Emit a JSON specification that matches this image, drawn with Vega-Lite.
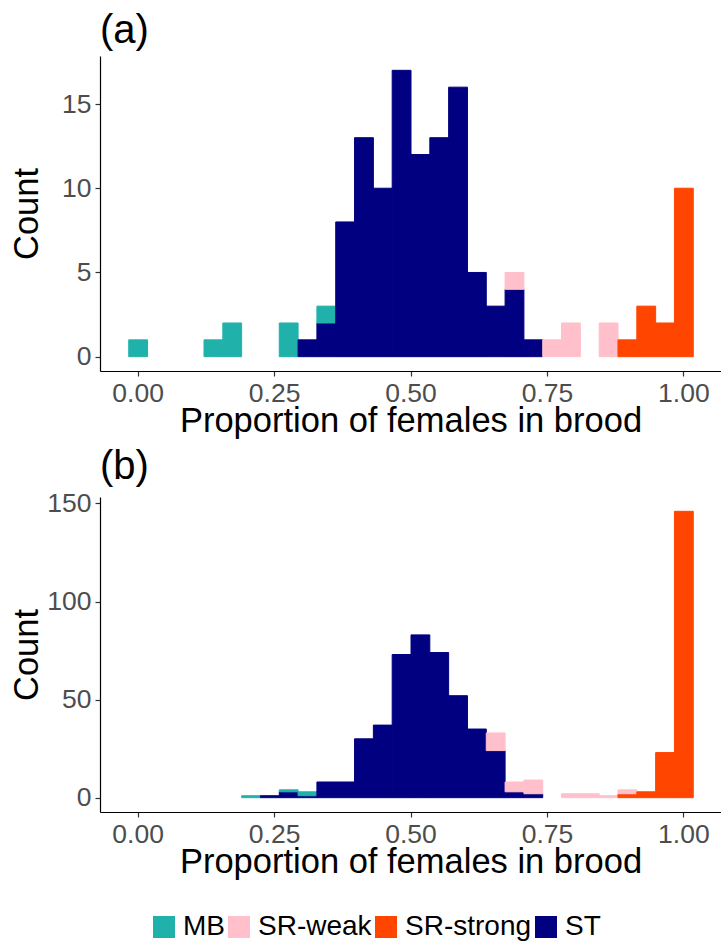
{
  "$schema": "https://vega.github.io/schema/vega-lite/v6.json",
  "padding": {"left": 9, "top": 11, "right": 0, "bottom": 0},
  "background": "white",
  "config": {
    "font": "Liberation Sans",
    "view": {"stroke": null},
    "axis": {
      "grid": false,
      "domainColor": "black",
      "domainWidth": 1.2,
      "tickColor": "#333333",
      "tickWidth": 1.2,
      "tickSize": 5,
      "labelColor": "#4D4D4D",
      "labelFontSize": 26.5,
      "labelPadding": 4,
      "labelFont": "Liberation Sans",
      "titleFont": "Liberation Sans",
      "titleFontSize": 34.5,
      "titleFontWeight": "normal",
      "titleColor": "black"
    },
    "title": {
      "font": "Liberation Sans",
      "fontSize": 40,
      "fontWeight": "normal",
      "anchor": "start",
      "frame": "group",
      "baseline": "alphabetic",
      "color": "black"
    }
  },
  "datasets": {
    "hist": [
      {"panel": "a", "group": "MB", "bin_start": -0.017241, "bin_end": 0.017241, "count": 1},
      {"panel": "a", "group": "MB", "bin_start": 0.120690, "bin_end": 0.155172, "count": 1},
      {"panel": "a", "group": "MB", "bin_start": 0.155172, "bin_end": 0.189655, "count": 2},
      {"panel": "a", "group": "MB", "bin_start": 0.258621, "bin_end": 0.293103, "count": 2},
      {"panel": "a", "group": "ST", "bin_start": 0.293103, "bin_end": 0.327586, "count": 1},
      {"panel": "a", "group": "ST", "bin_start": 0.327586, "bin_end": 0.362069, "count": 2},
      {"panel": "a", "group": "MB", "bin_start": 0.327586, "bin_end": 0.362069, "count": 1},
      {"panel": "a", "group": "ST", "bin_start": 0.362069, "bin_end": 0.396552, "count": 8},
      {"panel": "a", "group": "ST", "bin_start": 0.396552, "bin_end": 0.431034, "count": 13},
      {"panel": "a", "group": "ST", "bin_start": 0.431034, "bin_end": 0.465517, "count": 10},
      {"panel": "a", "group": "ST", "bin_start": 0.465517, "bin_end": 0.500000, "count": 17},
      {"panel": "a", "group": "ST", "bin_start": 0.500000, "bin_end": 0.534483, "count": 12},
      {"panel": "a", "group": "ST", "bin_start": 0.534483, "bin_end": 0.568966, "count": 13},
      {"panel": "a", "group": "ST", "bin_start": 0.568966, "bin_end": 0.603448, "count": 16},
      {"panel": "a", "group": "ST", "bin_start": 0.603448, "bin_end": 0.637931, "count": 5},
      {"panel": "a", "group": "ST", "bin_start": 0.637931, "bin_end": 0.672414, "count": 3},
      {"panel": "a", "group": "ST", "bin_start": 0.672414, "bin_end": 0.706897, "count": 4},
      {"panel": "a", "group": "SR-weak", "bin_start": 0.672414, "bin_end": 0.706897, "count": 1},
      {"panel": "a", "group": "ST", "bin_start": 0.706897, "bin_end": 0.741379, "count": 1},
      {"panel": "a", "group": "SR-weak", "bin_start": 0.741379, "bin_end": 0.775862, "count": 1},
      {"panel": "a", "group": "SR-weak", "bin_start": 0.775862, "bin_end": 0.810345, "count": 2},
      {"panel": "a", "group": "SR-weak", "bin_start": 0.844828, "bin_end": 0.879310, "count": 2},
      {"panel": "a", "group": "SR-strong", "bin_start": 0.879310, "bin_end": 0.913793, "count": 1},
      {"panel": "a", "group": "SR-strong", "bin_start": 0.913793, "bin_end": 0.948276, "count": 3},
      {"panel": "a", "group": "SR-strong", "bin_start": 0.948276, "bin_end": 0.982759, "count": 2},
      {"panel": "a", "group": "SR-strong", "bin_start": 0.982759, "bin_end": 1.017241, "count": 10},

      {"panel": "b", "group": "MB", "bin_start": 0.189655, "bin_end": 0.224138, "count": 1},
      {"panel": "b", "group": "ST", "bin_start": 0.224138, "bin_end": 0.258621, "count": 1},
      {"panel": "b", "group": "ST", "bin_start": 0.258621, "bin_end": 0.293103, "count": 3},
      {"panel": "b", "group": "MB", "bin_start": 0.258621, "bin_end": 0.293103, "count": 1},
      {"panel": "b", "group": "ST", "bin_start": 0.293103, "bin_end": 0.327586, "count": 1},
      {"panel": "b", "group": "MB", "bin_start": 0.293103, "bin_end": 0.327586, "count": 2},
      {"panel": "b", "group": "ST", "bin_start": 0.327586, "bin_end": 0.362069, "count": 8},
      {"panel": "b", "group": "ST", "bin_start": 0.362069, "bin_end": 0.396552, "count": 8},
      {"panel": "b", "group": "ST", "bin_start": 0.396552, "bin_end": 0.431034, "count": 30},
      {"panel": "b", "group": "ST", "bin_start": 0.431034, "bin_end": 0.465517, "count": 37},
      {"panel": "b", "group": "ST", "bin_start": 0.465517, "bin_end": 0.500000, "count": 73},
      {"panel": "b", "group": "ST", "bin_start": 0.500000, "bin_end": 0.534483, "count": 83},
      {"panel": "b", "group": "ST", "bin_start": 0.534483, "bin_end": 0.568966, "count": 74},
      {"panel": "b", "group": "ST", "bin_start": 0.568966, "bin_end": 0.603448, "count": 52},
      {"panel": "b", "group": "ST", "bin_start": 0.603448, "bin_end": 0.637931, "count": 35},
      {"panel": "b", "group": "ST", "bin_start": 0.637931, "bin_end": 0.672414, "count": 24},
      {"panel": "b", "group": "SR-weak", "bin_start": 0.637931, "bin_end": 0.672414, "count": 9},
      {"panel": "b", "group": "ST", "bin_start": 0.672414, "bin_end": 0.706897, "count": 3},
      {"panel": "b", "group": "SR-weak", "bin_start": 0.672414, "bin_end": 0.706897, "count": 5},
      {"panel": "b", "group": "ST", "bin_start": 0.706897, "bin_end": 0.741379, "count": 2},
      {"panel": "b", "group": "SR-weak", "bin_start": 0.706897, "bin_end": 0.741379, "count": 7},
      {"panel": "b", "group": "SR-weak", "bin_start": 0.775862, "bin_end": 0.810345, "count": 2},
      {"panel": "b", "group": "SR-weak", "bin_start": 0.810345, "bin_end": 0.844828, "count": 2},
      {"panel": "b", "group": "SR-weak", "bin_start": 0.844828, "bin_end": 0.879310, "count": 1},
      {"panel": "b", "group": "SR-strong", "bin_start": 0.879310, "bin_end": 0.913793, "count": 2},
      {"panel": "b", "group": "SR-weak", "bin_start": 0.879310, "bin_end": 0.913793, "count": 2},
      {"panel": "b", "group": "SR-strong", "bin_start": 0.913793, "bin_end": 0.948276, "count": 3},
      {"panel": "b", "group": "SR-strong", "bin_start": 0.948276, "bin_end": 0.982759, "count": 23},
      {"panel": "b", "group": "SR-strong", "bin_start": 0.982759, "bin_end": 1.017241, "count": 146}
    ]
  },
  "spacing": 9,
  "resolve": {"scale": {"color": "shared"}},
  "vconcat": [
    {
      "data": {"name": "hist"},
      "transform": [
        {"filter": "datum.panel === 'a'"},
        {"calculate": "indexof(['ST','SR-strong','SR-weak','MB'], datum.group)", "as": "stackorder"}
      ],
      "width": 621,
      "height": 315,
      "title": {"text": "(a)", "offset": 5},
      "mark": {"type": "bar", "binSpacing": 0, "strokeWidth": 1},
      "encoding": {
        "x": {
          "field": "bin_start", "type": "quantitative", "bin": {"binned": true},
          "scale": {"domain": [-0.06897, 1.06897], "nice": false, "zero": false},
          "axis": {"values": [0, 0.25, 0.5, 0.75, 1], "format": ".2f", "title": "Proportion of females in brood", "titlePadding": -2}
        },
        "x2": {"field": "bin_end"},
        "y": {
          "field": "count", "type": "quantitative", "stack": "zero",
          "scale": {"domain": [-0.85, 17.85], "nice": false, "zero": false},
          "axis": {"values": [0, 5, 10, 15], "title": "Count", "titleX": -63, "titleBaseline": "alphabetic", "titleAngle": 270}
        },
        "color": {
          "field": "group", "type": "nominal",
          "scale": {"domain": ["MB", "SR-weak", "SR-strong", "ST"], "range": ["#20B2AA", "#FFC0CB", "#FF4500", "#000080"]},
          "legend": {
            "orient": "none", "legendX": 50, "legendY": 857, "direction": "horizontal", "title": null,
            "symbolType": "square", "symbolSize": 484, "symbolStrokeWidth": 0, "symbolOpacity": 1,
            "labelFontSize": 28, "labelColor": "black", "labelOffset": 5, "columnPadding": -1.5, "labelFont": "Liberation Sans"
          }
        },
        "stroke": {
          "field": "group", "type": "nominal",
          "scale": {"domain": ["MB", "SR-weak", "SR-strong", "ST"], "range": ["#20B2AA", "#FFC0CB", "#FF4500", "#000080"]},
          "legend": null
        },
        "order": {"field": "stackorder", "type": "quantitative", "sort": "ascending"}
      }
    },
    {
      "data": {"name": "hist"},
      "transform": [
        {"filter": "datum.panel === 'b'"},
        {"calculate": "indexof(['ST','SR-strong','SR-weak','MB'], datum.group)", "as": "stackorder"}
      ],
      "width": 621,
      "height": 315,
      "title": {"text": "(b)", "offset": 3},
      "mark": {"type": "bar", "binSpacing": 0, "strokeWidth": 1},
      "encoding": {
        "x": {
          "field": "bin_start", "type": "quantitative", "bin": {"binned": true},
          "scale": {"domain": [-0.06897, 1.06897], "nice": false, "zero": false},
          "axis": {"values": [0, 0.25, 0.5, 0.75, 1], "format": ".2f", "title": "Proportion of females in brood", "titlePadding": -2}
        },
        "x2": {"field": "bin_end"},
        "y": {
          "field": "count", "type": "quantitative", "stack": "zero",
          "scale": {"domain": [-7.3, 153.3], "nice": false, "zero": false},
          "axis": {"values": [0, 50, 100, 150], "title": "Count", "titleX": -63, "titleBaseline": "alphabetic", "titleAngle": 270}
        },
        "color": {
          "field": "group", "type": "nominal",
          "scale": {"domain": ["MB", "SR-weak", "SR-strong", "ST"], "range": ["#20B2AA", "#FFC0CB", "#FF4500", "#000080"]}
        },
        "stroke": {
          "field": "group", "type": "nominal",
          "scale": {"domain": ["MB", "SR-weak", "SR-strong", "ST"], "range": ["#20B2AA", "#FFC0CB", "#FF4500", "#000080"]},
          "legend": null
        },
        "order": {"field": "stackorder", "type": "quantitative", "sort": "ascending"}
      }
    }
  ]
}
